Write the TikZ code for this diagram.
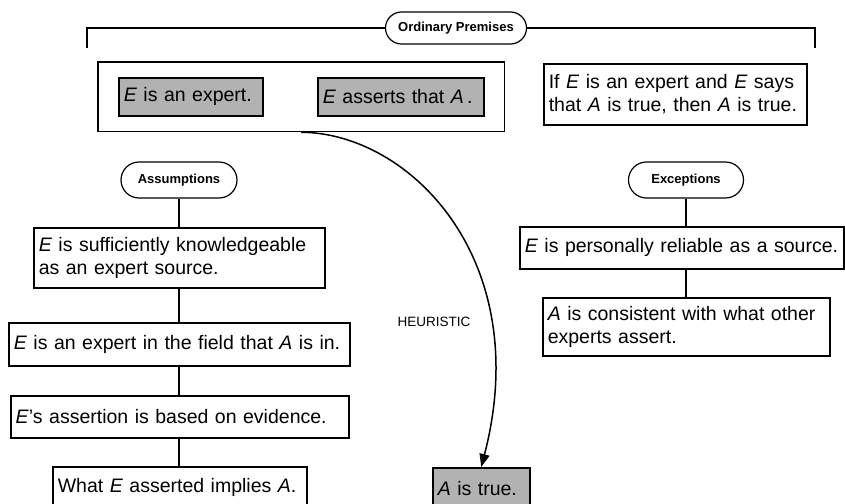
\documentclass[tikz,border=0pt]{standalone}
\usepackage{fontspec}
\setmainfont{Liberation Sans}
\usepackage{tikz}
\usetikzlibrary{arrows.meta, positioning, fit}
\tikzset{
    base/.style={draw=black, line width=1.5pt, align=left, inner xsep=5pt, inner ysep=2pt},
    box/.style={base, rectangle, fill=white, anchor=north west, font=\fontsize{19.5}{23}\selectfont},
    boxshaded/.style={box, fill=gray!60},
    tag/.style={draw=black, line width=1.2pt, rounded corners=16pt, fill=white, font=\fontsize{13}{15}\selectfont\bfseries},
    line/.style={draw=black, line width=1.8pt},
    arrow/.style={draw=black, line width=1.5pt, -{Triangle[length=13pt, width=10pt]}}
}

\begin{document}
\begin{tikzpicture}[x=1pt, y=-1pt]
    \useasboundingbox (0,0) rectangle (845,503);
    \node [tag, minimum width=141pt, minimum height=32pt] (prem) at (456,28) {Ordinary Premises};
    \coordinate (bl) at (87,48);
    \coordinate (br) at (815,48);
    \draw [line] (bl) |- (prem.west);
    \draw [line] (br) |- (prem.east);
    \node [boxshaded, minimum width=144pt, text width=134pt, minimum height=38pt] (expert) at (118,77) {\textit{E} is an expert.};
    \node [boxshaded, minimum width=166pt, text width=156pt, minimum height=38pt] (asserts) at (317,77) {\textit{E} asserts that \textit{A}\,.};
    \node [base, fit=(expert) (asserts), inner xsep=20pt, inner ysep=15pt] (given) {};
    \node [box, minimum width=263pt, text width=253pt, minimum height=61pt] (rule) at (543,63) {If \textit{E} is an expert and \textit{E} says\\that \textit{A} is true, then \textit{A} is true.};

    \node [tag, minimum width=116pt, minimum height=36pt, rounded corners=18pt] (assum) at (179,180) {Assumptions};
    \node [box, minimum width=291pt, text width=281pt, minimum height=60pt] (know) at (33,227) {\textit{E} is sufficiently knowledgeable\\as an expert source.};
    \node [box, minimum width=341pt, text width=331pt, minimum height=43pt] (field) at (8,322) {\textit{E} is an expert in the field that \textit{A} is in.};
    \node [box, minimum width=338pt, text width=328pt, minimum height=42pt] (evid) at (10,395) {\textit{E}'s assertion is based on evidence.};
    \node [box, minimum width=254pt, text width=244pt, minimum height=42pt] (implies) at (52,466) {What \textit{E} asserted implies \textit{A}.};
    \draw [line] (assum.south) -- (assum |- know.north);
    \draw [line] (assum |- know.south) -- (assum |- field.north);
    \draw [line] (assum |- field.south) -- (assum |- evid.north);
    \draw [line] (assum |- evid.south) -- (assum |- implies.north);

    \node [tag, minimum width=115pt, minimum height=36pt, rounded corners=18pt] (excep) at (686,180) {Exceptions};
    \node [box, minimum width=324pt, text width=314pt, minimum height=42pt] (reliab) at (519,226) {\textit{E} is personally reliable as a source.};
    \node [box, minimum width=287pt, text width=277pt, minimum height=58pt] (consist) at (542,297) {\textit{A} is consistent with what other\\experts assert.};
    \draw [line] (excep) -- (excep |- reliab.north);
    \draw [line] (excep |- reliab.south) -- (excep |- consist.north);

    \node [boxshaded, minimum width=97pt, text width=87pt, minimum height=42pt] (true) at (432,467) {\textit{A} is true.};
    \draw [arrow] (given.south) .. controls (410,133) and (535,260) .. (true.north);
    \node [font=\fontsize{13.5}{16}\selectfont] (heur) at (434,322) {HEURISTIC};
\end{tikzpicture}
\end{document}
